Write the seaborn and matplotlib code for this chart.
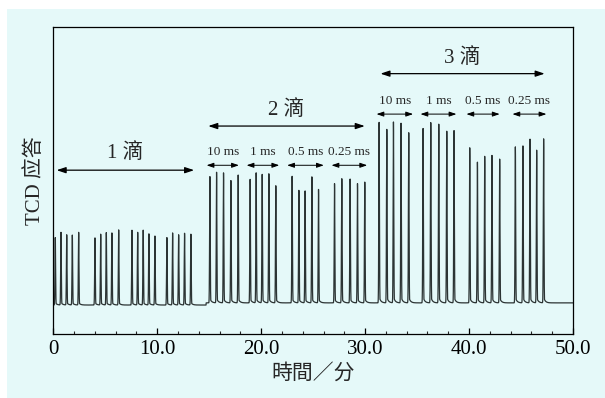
import numpy as np
import pandas as pd
import matplotlib
matplotlib.use("Agg")
import matplotlib.pyplot as plt
from matplotlib.patches import Rectangle
from matplotlib.ticker import MultipleLocator
import seaborn as sns

# ピーク位置（分）と高さ（任意単位）
drop1_time = [0.19, 0.74, 1.29, 1.83, 2.44, 4.01, 4.56, 5.10, 5.64, 6.29,
              7.57, 8.12, 8.65, 9.20, 9.78, 10.93, 11.48, 12.06, 12.63, 13.24]
drop1_top = [31.3, 33.0, 32.2, 32.1, 33.0, 31.2, 32.4, 32.9, 32.8, 33.8,
             33.7, 33.0, 33.7, 32.5, 31.8, 31.3, 32.8, 32.2, 32.7, 32.4]
drop2_time = [15.07, 15.71, 16.38, 17.09, 17.79, 18.94, 19.52, 20.10, 20.74, 21.41,
              22.98, 23.63, 24.23, 24.88, 25.52, 27.06, 27.76, 28.56, 29.27, 29.97]
drop2_top = [51.2, 52.6, 52.4, 49.9, 51.7, 50.3, 52.4, 51.9, 52.1, 48.2,
             51.3, 46.7, 46.5, 51.1, 47.0, 48.9, 50.5, 50.4, 48.9, 49.4]
drop3_time = [31.35, 32.09, 32.73, 33.46, 34.20, 35.58, 36.32, 37.09, 37.86, 38.56,
              40.07, 40.81, 41.51, 42.21, 42.95, 44.46, 45.19, 45.87, 46.51, 47.18]
drop3_top = [68.9, 66.6, 69.0, 68.6, 65.5, 66.9, 68.8, 68.3, 66.0, 66.2,
             60.6, 55.9, 57.8, 58.1, 56.9, 60.9, 61.2, 63.4, 59.8, 63.5]
baseline_levels = [9.3, 10.0]   # 1滴の区間 / それ以降

pulse_labels = ["10 ms", "1 ms", "0.5 ms", "0.25 ms"]
drop_labels = ["1 滴", "2 滴", "3 滴"]

# 各ピークを細いピーク形状で合成
t = np.arange(0, 50.0001, 0.005)
base = np.where(t < 14.7, baseline_levels[0], baseline_levels[1])
trace = base.copy()
for times, tops in [(drop1_time, drop1_top), (drop2_time, drop2_top), (drop3_time, drop3_top)]:
    for tp, top in zip(times, tops):
        b = baseline_levels[0] if tp < 14.7 else baseline_levels[1]
        amp = top - b
        g = np.exp(-0.5 * ((t - tp) / 0.03) ** 2)
        tail = np.where(t > tp, 0.035 * np.exp(-(t - tp) / 0.15), 0)
        trace += amp * np.maximum(g, tail)

df = pd.DataFrame({"time": t, "tcd": trace})

sns.set_theme(style="white")
plt.rcParams["font.family"] = ["Liberation Serif", "Noto Sans CJK SC"]
plt.rcParams["axes.unicode_minus"] = False

bg = "#e5f9f9"
fig = plt.figure(figsize=(6.05, 3.98), dpi=100, facecolor="white")
fig.patches.append(Rectangle((7 / 605, 0), 1, 1 - 9 / 398, transform=fig.transFigure,
                             facecolor=bg, edgecolor="none", zorder=-10))
ax = fig.add_axes([0.0881, 0.162, 0.8589, 0.770])
ax.set_facecolor(bg)

sns.lineplot(data=df, x="time", y="tcd", ax=ax, color="#2c3434", linewidth=0.9)

ax.set_xlim(0, 50)
ax.set_ylim(0, 100)
ax.set_yticks([])
ax.xaxis.set_minor_locator(MultipleLocator(2))
ax.set_xticks([0, 10, 20, 30, 40, 50])
ax.set_xticklabels(["0", "10.0", "20.0", "30.0", "40.0", "50.0"], fontsize=15)
ax.tick_params(axis="x", which="major", direction="in", length=4, width=0.9,
               colors="black", pad=5, bottom=True)
ax.tick_params(axis="x", which="minor", direction="in", length=2.5, width=0.8, bottom=True)
for s in ax.spines.values():
    s.set_color("black")
    s.set_linewidth(0.9)

ax.set_xlabel("時間／分", fontsize=15, labelpad=3)
ax.set_ylabel("TCD 应答", fontsize=15, labelpad=6)

arrow = dict(arrowstyle="<|-|>,head_length=0.45,head_width=0.15", color="black", lw=0.9,
             shrinkA=0, shrinkB=0)

def span(x0, x1, y, label, ty, size):
    ax.annotate("", xy=(x0, y), xytext=(x1, y), arrowprops=arrow)
    ax.text((x0 + x1) / 2, ty, label, ha="center", va="center", fontsize=size)

# 滴数の範囲
span(0.32, 13.55, 53.3, drop_labels[0], 58.9, 15)
span(14.91, 29.97, 67.7, drop_labels[1], 72.9, 15)
span(31.48, 47.28, 84.8, drop_labels[2], 89.8, 15)

# パルス幅
g2 = [(14.75, 17.86), (18.60, 21.74), (22.50, 26.03), (26.77, 30.2)]
g3 = [(31.10, 34.62), (35.33, 38.79), (39.75, 42.95), (44.18, 47.45)]
arrow_small = dict(arrow, arrowstyle="<|-|>,head_length=0.35,head_width=0.12", lw=0.7)
for (x0, x1), lab in zip(g2, pulse_labels):
    ax.annotate("", xy=(x0, 54.9), xytext=(x1, 54.9), arrowprops=arrow_small)
    ax.text((x0 + x1) / 2, 59.3, lab, ha="center", va="center", fontsize=9.5)
for (x0, x1), lab in zip(g3, pulse_labels):
    ax.annotate("", xy=(x0, 71.6), xytext=(x1, 71.6), arrowprops=arrow_small)
    ax.text((x0 + x1) / 2, 76.0, lab, ha="center", va="center", fontsize=9.5)

fig.savefig("out.png", dpi=100, facecolor=fig.get_facecolor())
